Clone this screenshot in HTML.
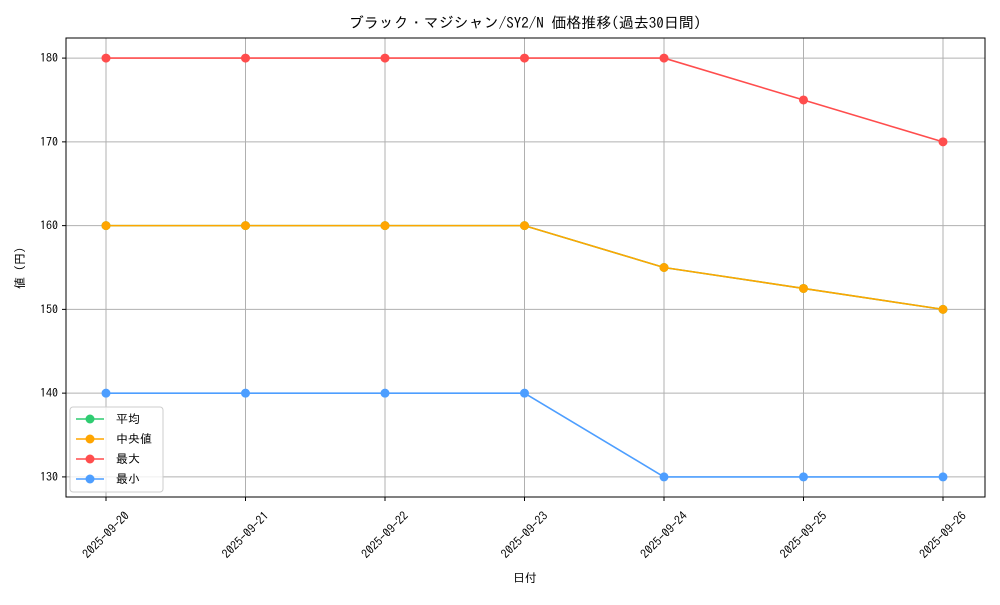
<!DOCTYPE html>
<html><head><meta charset="utf-8">
<style>
body{margin:0;background:#fff;}
svg text{font-family:"IPAGothic","Noto Sans CJK JP",sans-serif;fill:#000;}
</style></head>
<body>
<svg id="chart" width="1000" height="600" xmlns="http://www.w3.org/2000/svg">
<rect width="1000" height="600" fill="#fff"/>
<text x="525" y="28" font-size="15" text-anchor="middle">ブラック・マジシャン/SY2/N 価格推移(過去30日間)</text>
<g id="grid"></g>
<g id="series"></g>
<rect x="66" y="38" width="919" height="459" fill="none" stroke="#000" stroke-width="1"/>
<g id="axes"></g>
<text x="525" y="582" font-size="12" text-anchor="middle">日付</text>
<text transform="translate(24,268) rotate(-90)" font-size="12" text-anchor="middle">値 (円)</text>
<g id="legend">
<rect x="70" y="407" width="93" height="85" rx="3" fill="#fff" fill-opacity="0.8" stroke="#ccc"/>
</g>
</svg>
<script>
const dates=["2025-09-20","2025-09-21","2025-09-22","2025-09-23","2025-09-24","2025-09-25","2025-09-26"];
const meanVals=[160,160,160,160,155,152.5,150];
const medianVals=[160,160,160,160,155,152.5,150];
const maxVals=[180,180,180,180,180,175,170];
const minVals=[140,140,140,140,130,130,130];
const yTicks=[130,140,150,160,170,180];
const seriesNames=["平均","中央値","最大","最小"];
const NS="http://www.w3.org/2000/svg";
const x0=106,x1=943,yTop=38,yBot=497,dMin=127.6,dMax=182.4;
const xs=i=>x0+(x1-x0)*i/(dates.length-1);
const ys=v=>yBot-(v-dMin)/(dMax-dMin)*(yBot-yTop);
function mk(t,a,p){const e=document.createElementNS(NS,t);for(const k in a)e.setAttribute(k,a[k]);p.appendChild(e);return e;}
const grid=document.getElementById('grid'),axes=document.getElementById('axes'),ser=document.getElementById('series');
dates.forEach((d,i)=>{const x=xs(i);
 const g=mk('line',{x1:x,x2:x,y1:yTop,y2:yBot,stroke:'#b0b0b0','stroke-width':1},grid);
 
 mk('line',{x1:x,x2:x,y1:yBot,y2:yBot+4,stroke:'#000'},axes);
 const t=mk('text',{x:x,y:539,'font-size':12,'text-anchor':'middle',transform:`rotate(-45 ${x} 535)`},axes);
 t.textContent=d;
});
yTicks.forEach(v=>{const y=ys(v);
 const g=mk('line',{x1:66,x2:985,y1:y,y2:y,stroke:'#b0b0b0','stroke-width':1},grid);
 
 mk('line',{x1:62,x2:66,y1:y,y2:y,stroke:'#000'},axes);
 const t=mk('text',{x:58,y:y+4,'font-size':12,'text-anchor':'end'},axes);
 t.textContent=v;
});
const all=[meanVals,medianVals,maxVals,minVals];
const colors=["#2ecc71","#ffa500","#ff4d4d","#4d9eff"];
const keys=["mean","median","max","min"];
all.forEach((vals,s)=>{
 const g=mk('g',{},ser);
 mk('polyline',{points:vals.map((v,i)=>xs(i)+','+ys(v)).join(' '),fill:'none',stroke:colors[s],'stroke-width':1.6},g);
 vals.forEach((v,i)=>{const c=mk('circle',{cx:xs(i),cy:ys(v),r:4.5,fill:colors[s]},g);
  });
});
const lg=document.getElementById('legend');
seriesNames.forEach((n,s)=>{const y=419+s*20;
 const e=mk('g',{},lg);
 mk('line',{x1:76,x2:104,y1:y,y2:y,stroke:colors[s],'stroke-width':1.6},e);
 mk('circle',{cx:90,cy:y,r:4.5,fill:colors[s]},e);
 const t=mk('text',{x:116,y:y+4,'font-size':12},e);t.textContent=n;
});
</script>
</body></html>
